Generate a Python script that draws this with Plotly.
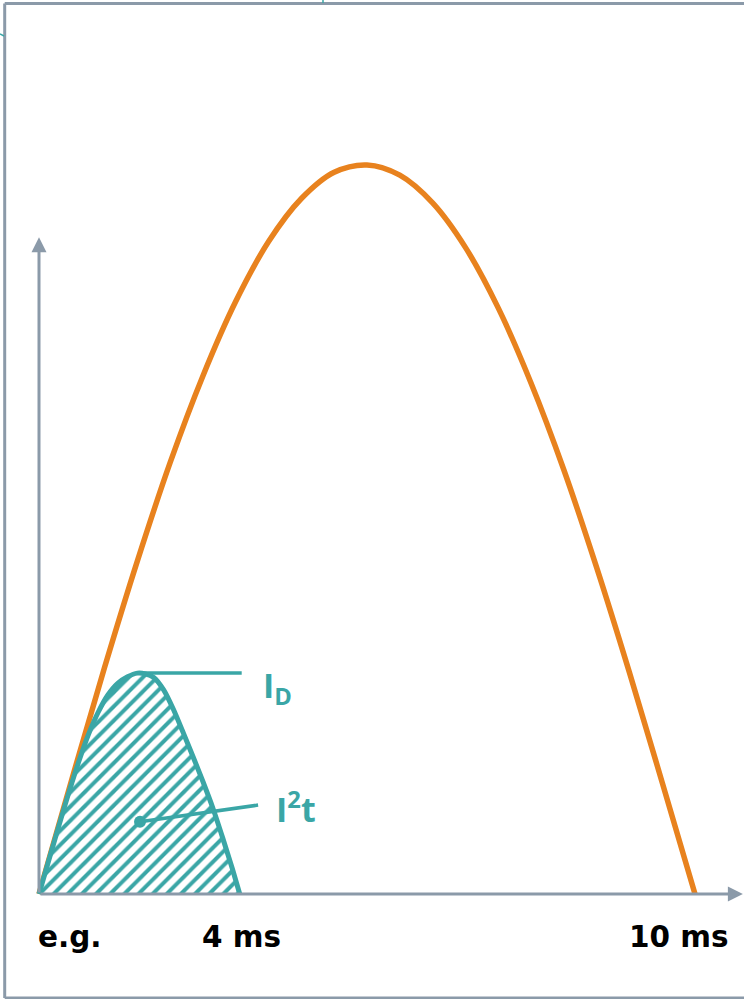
import plotly.graph_objects as go

# Orange: prospective short-circuit current half wave (ms, % of peak)
orange_t = [0, 0.5, 1, 1.5, 2, 2.5, 3, 3.5, 4, 4.5, 5, 5.5, 6, 6.5, 7, 7.5, 8, 8.5, 9, 9.5, 10]
orange_i = [0, 15.7, 31.1, 45.7, 59.2, 71.1, 81.3, 89.5, 95.4, 99.0, 100,
            98.6, 94.8, 88.7, 80.4, 70.1, 58.2, 44.8, 30.4, 15.3, 0]

# Teal: let-through current of the fuse
teal_t = [0, 0.2, 0.4, 0.6, 0.75, 0.9, 1.05, 1.2, 1.35, 1.5, 1.62, 1.75,
          1.9, 2.05, 2.2, 2.35, 2.5, 2.65, 2.8, 2.95, 3.06]
teal_i = [0, 6.2, 12.3, 18.0, 21.8, 24.9, 27.3, 28.9, 29.8, 30.3, 30.2, 29.7,
          28.0, 25.3, 22.1, 18.8, 15.4, 11.8, 7.7, 3.4, 0]

tick_t = [0.47, 3.09, 9.75]
tick_labels = ["e.g.", "4 ms", "10 ms"]

ORANGE = "#e8821e"
TEAL = "#3aa6a6"
GREY = "#8b9aa9"

fig = go.Figure()

fig.add_trace(go.Scatter(
    x=orange_t, y=orange_i, mode="lines",
    line=dict(color=ORANGE, width=5.5, shape="spline", smoothing=1.0),
    hoverinfo="skip"
))

fig.add_trace(go.Scatter(
    x=teal_t, y=teal_i, mode="lines", fill="tozeroy",
    fillcolor="rgba(0,0,0,0)",
    fillpattern=dict(shape="/", size=10, solidity=0.4, fgcolor=TEAL,
                     fgopacity=1, bgcolor="white"),
    line=dict(color=TEAL, width=5, shape="spline", smoothing=0.6),
    hoverinfo="skip"
))

# leader lines for I_D and I2t
fig.add_trace(go.Scatter(x=[1.5, 3.09], y=[30.3, 30.3], mode="lines",
                         line=dict(color=TEAL, width=3.5), hoverinfo="skip"))
fig.add_trace(go.Scatter(x=[1.54, 3.34], y=[9.9, 12.2], mode="lines",
                         line=dict(color=TEAL, width=3.5), hoverinfo="skip"))
fig.add_trace(go.Scatter(x=[1.54], y=[9.9], mode="markers",
                         marker=dict(color=TEAL, size=12), hoverinfo="skip"))

# axes with arrow heads
fig.add_annotation(x=0, y=90.1, ax=0, ay=0, axref="x", ayref="y",
                   showarrow=True, arrowhead=2, arrowsize=1, arrowwidth=3,
                   arrowcolor=GREY, text="")
fig.add_annotation(x=10.73, y=0, ax=0, ay=0, axref="x", ayref="y",
                   showarrow=True, arrowhead=2, arrowsize=1, arrowwidth=3,
                   arrowcolor=GREY, text="")

label_font = dict(family="Open Sans", size=34, color=TEAL, weight=700)
fig.add_annotation(x=3.38, y=28.4, text="I<sub>D</sub>", showarrow=False,
                   xanchor="left", yanchor="middle", font=label_font)
fig.add_annotation(x=3.58, y=11.8, text="I<sup>2</sup>t", showarrow=False,
                   xanchor="left", yanchor="middle", font=label_font)

for t, lab in zip(tick_t, tick_labels):
    fig.add_annotation(x=t, y=-5.9, text=lab, showarrow=False,
                       xanchor="center", yanchor="middle",
                       font=dict(family="DejaVu Sans", size=29.5, color="black", weight="bold"))

# picture frame
W, H = 744, 999
frame = dict(type="line", xref="paper", yref="paper", line=dict(color=GREY, width=3))
fig.add_shape(**frame, x0=4.7 / W, x1=4.7 / W, y0=1 - 3.5 / H, y1=1 - 998 / H)
fig.add_shape(**frame, x0=4.7 / W, x1=1, y0=1 - 3.5 / H, y1=1 - 3.5 / H)
fig.add_shape(**frame, x0=4.7 / W, x1=1, y0=1 - 998 / H, y1=1 - 998 / H)
tick = dict(type="line", xref="paper", yref="paper", line=dict(color=TEAL, width=1.5))
fig.add_shape(**tick, x0=323 / W, x1=323 / W, y0=1, y1=1 - 3 / H)
fig.add_shape(**tick, x0=0, x1=4 / W, y0=1 - 34 / H, y1=1 - 36 / H)

fig.update_xaxes(visible=False, range=[-0.5945, 10.747], fixedrange=True)
fig.update_yaxes(visible=False, range=[-14.4, 122.63], fixedrange=True)
fig.update_layout(
    width=W, height=H,
    margin=dict(l=0, r=0, t=0, b=0),
    paper_bgcolor="white", plot_bgcolor="white",
    showlegend=False
)

# drop the browser's default body margin so the figure sits at the page corner
fig.write_html("out.html", config={"displayModeBar": False},
               post_script="document.body.style.margin='0';")
